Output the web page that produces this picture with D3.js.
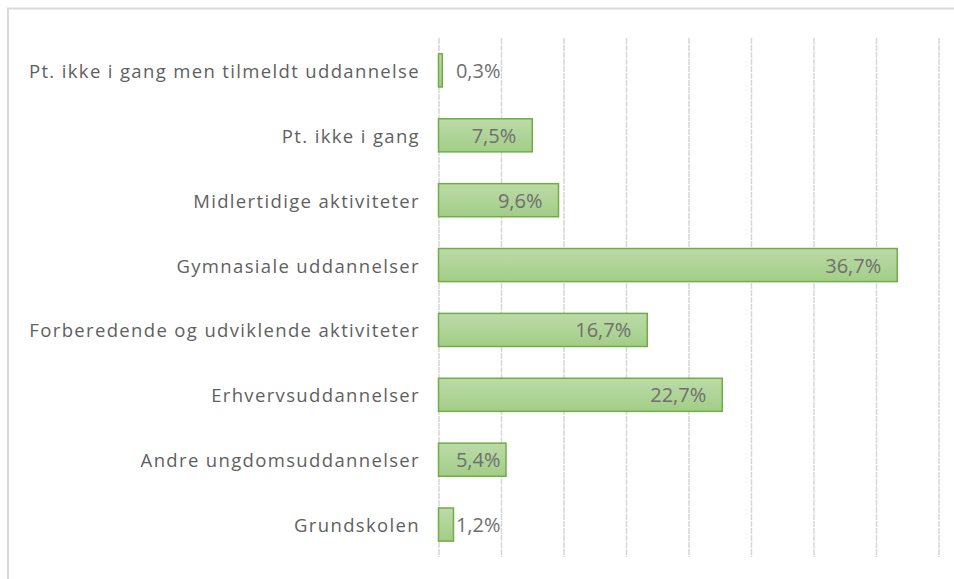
<!DOCTYPE html>
<html>
<head>
<meta charset="utf-8">
<script src="https://cdn.jsdelivr.net/npm/d3@7"></script>
<style>
  html, body { margin: 0; padding: 0; background: #fff; overflow: hidden; }
  .cat { font-family: "Open Sans", sans-serif; font-size: 18.5px; letter-spacing: 1.35px; fill: #5f5f5f; }
  .val { font-family: "Open Sans", sans-serif; font-size: 20px; fill: #6f6f6f; }
</style>
</head>
<body>
<svg id="chart" width="954" height="579"></svg>
<script>
// categories top to bottom, as in the picture
const categories = [
  'Pt. ikke i gang men tilmeldt uddannelse',
  'Pt. ikke i gang',
  'Midlertidige aktiviteter',
  'Gymnasiale uddannelser',
  'Forberedende og udviklende aktiviteter',
  'Erhvervsuddannelser',
  'Andre ungdomsuddannelser',
  'Grundskolen'
];
const values = [0.3, 7.5, 9.6, 36.7, 16.7, 22.7, 5.4, 1.2];
const tickValues = [0, 5, 10, 15, 20, 25, 30, 35, 40];

const fmt = v => v.toFixed(1).replace('.', ',') + '%';

const svg = d3.select('#chart');
const width = 954, height = 579;
const margin = { top: 38, right: 15.5, bottom: 22, left: 438.5 };

// chart frame (runs off the right and bottom of the picture)
svg.append('path')
  .attr('d', `M8,${height + 5}V8.5H${width + 5}`)
  .attr('fill', 'none')
  .attr('stroke', '#d9d9d9')
  .attr('stroke-width', 2);

const x = d3.scaleLinear()
  .domain([0, 40])
  .range([margin.left, width - margin.right]);

const y = d3.scaleBand()
  .domain(categories)
  .range([margin.top, height - margin.bottom])
  .paddingInner(0.49)
  .paddingOuter(0.245);

// vertical gridlines
svg.append('g')
  .attr('transform', `translate(0,${margin.top})`)
  .call(d3.axisBottom(x).tickValues(tickValues).tickSize(height - margin.bottom - margin.top).tickFormat(''))
  .call(g => g.select('.domain').remove())
  .call(g => g.selectAll('.tick line')
    .attr('stroke', '#d6d6d6')
    .attr('stroke-width', 1.5)
    .attr('stroke-dasharray', '6,1'));

const defs = svg.append('defs');
const grad = defs.append('linearGradient')
  .attr('id', 'barFill')
  .attr('x1', 0).attr('y1', 0).attr('x2', 0).attr('y2', 1);
grad.append('stop').attr('offset', '0%').attr('stop-color', '#bcdba8');
grad.append('stop').attr('offset', '100%').attr('stop-color', '#a2cd87');

const data = categories.map((c, i) => ({ cat: c, val: values[i] }));

// bars
svg.append('g')
  .selectAll('rect')
  .data(data)
  .join('rect')
  .attr('x', x(0))
  .attr('y', d => y(d.cat))
  .attr('width', d => x(d.val) - x(0))
  .attr('height', y.bandwidth())
  .attr('fill', 'url(#barFill)')
  .attr('stroke', '#70ad47')
  .attr('stroke-width', 1.5);

// category labels
svg.append('g')
  .selectAll('text')
  .data(data)
  .join('text')
  .attr('class', 'cat')
  .attr('x', x(0) - 18.5)
  .attr('y', d => y(d.cat) + y.bandwidth() / 2)
  .attr('text-anchor', 'end')
  .attr('dominant-baseline', 'central')
  .text(d => d.cat);

// value labels, inside end; small bars push them out to a minimum position
const minEnd = x(5) - 0.5;
svg.append('g')
  .selectAll('text')
  .data(data)
  .join('text')
  .attr('class', 'val')
  .attr('x', d => Math.max(x(d.val) - 16, minEnd))
  .attr('y', d => y(d.cat) + y.bandwidth() / 2)
  .attr('text-anchor', 'end')
  .attr('dominant-baseline', 'central')
  .text(d => fmt(d.val));
</script>
</body>
</html>
